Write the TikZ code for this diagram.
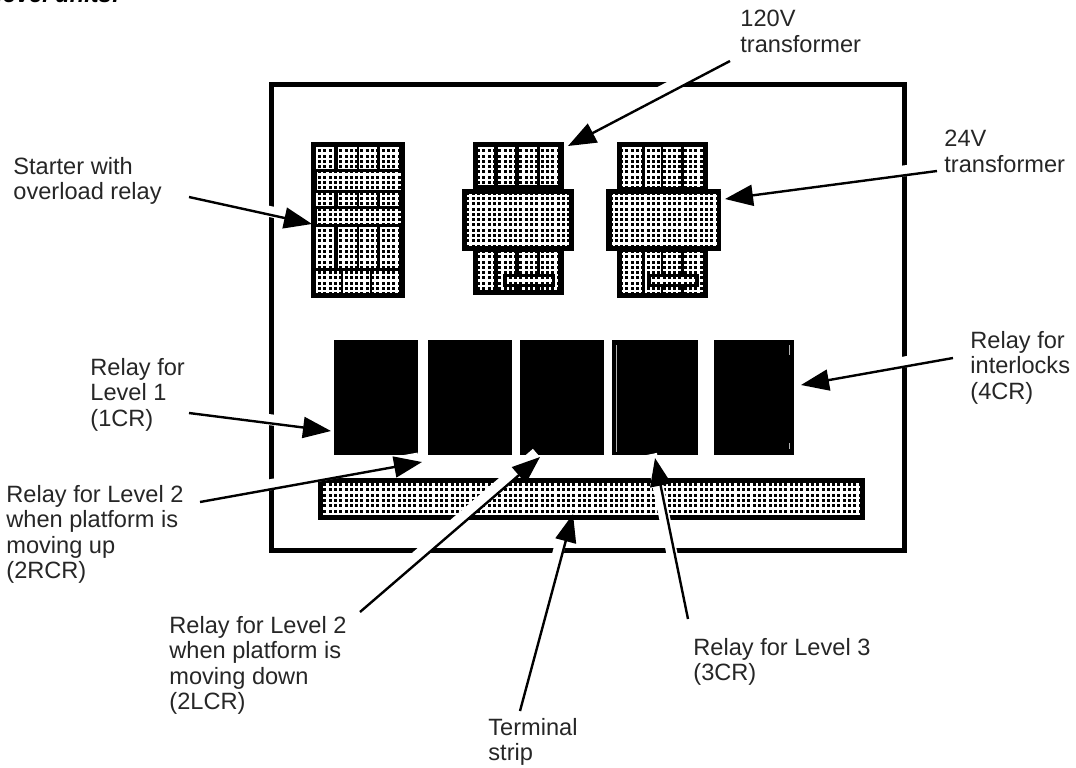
\documentclass[tikz,border=0pt]{standalone}
\usepackage{fontspec}
\setmainfont{Liberation Sans}
\usetikzlibrary{patterns, arrows.meta}
\pgfdeclarepatternformonly{Pdots}{\pgfqpoint{-0.1pt}{-0.1pt}}{\pgfqpoint{2.75pt}{2.75pt}}{\pgfqpoint{2.65pt}{2.65pt}}{
  \pgfpathrectangle{\pgfqpoint{0pt}{0pt}}{\pgfqpoint{1.5pt}{1.5pt}}
  \pgfusepath{fill}
}
\tikzset{
  F/.style={draw=black, line width=2.5pt, inner sep=0pt, outer sep=0pt,
    minimum width=316.5pt, minimum height=233pt},
  K/.style n args={2}{
    fill=black, inner sep=0pt, outer sep=0pt,
    minimum width=#1, minimum height=#2
  },
  cell/.style={fill=white, postaction={pattern=Pdots}},
  lbl/.style={anchor=north west, inner sep=0pt, align=left,
    text=black!85, font=\fontsize{11.8}{12.7}\selectfont},
  ld/.style={-{Triangle[length=14pt,width=10.5pt]}, line width=1.2pt,
    preaction={draw=white, line width=5.5pt, -, shorten >=#1,
      transform canvas={shift={(-3.5,-4)}}}},
  ld/.default=0pt
}
\begin{document}
\begin{tikzpicture}[x=0.5pt, y=-0.5pt]
\useasboundingbox (0,0) rectangle (1076,767);

% ─────────────────────────────────────────────────────────
%  Heading, cut by the top edge
% ─────────────────────────────────────────────────────────
\node[anchor=base west, inner sep=0pt, font=\fontsize{11.8}{12.7}\selectfont\bfseries\itshape] (ttl) at (-4,2) {level units:};

% ─────────────────────────────────────────────────────────
%  Panel
% ─────────────────────────────────────────────────────────
\node[F] (panel) at (588,317.5) {};

% ─────────────────────────────────────────────────────────
%  Starter
% ─────────────────────────────────────────────────────────
\node[K={47pt}{78pt}] (starter) at (357.5,220) {};
\foreach \xa/\xb in {316/334, 338/357, 359/377, 380/399} {
  \path[cell] (\xa,147) rectangle (\xb,169);
  \path[cell] (\xa,193) rectangle (\xb,206);
  \path[cell] (\xa,227) rectangle (\xb,268);
}
\path[cell] (317,172) rectangle (401,190);
\path[cell] (317,209) rectangle (401,224);
\foreach \xa/\xb in {316/341, 343/370, 372/399}
  \path[cell] (\xa,271) rectangle (\xb,293);

% ─────────────────────────────────────────────────────────
%  120V transformer
% ─────────────────────────────────────────────────────────
\node[K={45.5pt}{76.5pt}] (xfA) at (518.5,218.5) {};
\foreach \xa/\xb in {478/494, 498/515, 519/537, 540/558} {
  \path[cell] (\xa,147) rectangle (\xb,185);
  \path[cell] (\xa,252) rectangle (\xb,290);
}
\node[K={56pt}{31pt}] (xfAw) at (518,220) {};
\path[cell] (467,194) rectangle (569,246);
\node[K={26pt}{6.5pt}] (xfAb) at (529,280.5) {};
\path[cell] (507,277) rectangle (552,284);

% ─────────────────────────────────────────────────────────
%  24V transformer
% ─────────────────────────────────────────────────────────
\node[K={45.5pt}{78pt}] (xfB) at (662.5,220) {};
\foreach \xa/\xb in {622/642, 645/661, 663/681, 684/703} {
  \path[cell] (\xa,147) rectangle (\xb,187);
  \path[cell] (\xa,252) rectangle (\xb,293);
}
\node[K={57.5pt}{31pt}] (xfBw) at (663.5,220) {};
\path[cell] (612,194) rectangle (717,246);
\node[K={26pt}{6.5pt}] (xfBb) at (673,280.5) {};
\path[cell] (651,277) rectangle (695,284);

% ─────────────────────────────────────────────────────────
%  Relays
% ─────────────────────────────────────────────────────────
\node[K={42pt}{57.5pt}]    (ra) at (376,397.5) {};
\node[K={42pt}{57.5pt}]    (rb) at (470,397.5) {};
\node[K={41.75pt}{57.5pt}] (rc) at (561.75,397.5) {};
\node[K={43pt}{57.5pt}]    (rd) at (655,397.5) {};
\node[K={40pt}{57.5pt}]    (re) at (754,397.5) {};
\draw[white!70!black, line width=0.25pt] (616,345) -- (616,452);
\draw[white!70!black, line width=0.25pt] (789,345) -- (789,355);
\draw[white!70!black, line width=0.25pt] (789,443) -- (789,449);

% ─────────────────────────────────────────────────────────
%  Terminal strip
% ─────────────────────────────────────────────────────────
\node[K={273.5pt}{21pt}] (strip) at (591.5,499) {};
\path[cell] (323,483) rectangle (860,515);

% ─────────────────────────────────────────────────────────
%  Labels
% ─────────────────────────────────────────────────────────
\node[lbl] (tA) at (740,10)  {120V\\transformer};
\node[lbl] (tB) at (944,130) {24V\\transformer};
\node[lbl] (tS) at (13,157)  {Starter with\\overload relay};
\node[lbl] (tR) at (90,358)  {Relay for\\Level 1\\(1CR)};
\node[lbl] (tU) at (6,485)   {Relay for Level 2\\when platform is\\moving up\\(2RCR)};
\node[lbl] (tD) at (169,616) {Relay for Level 2\\when platform is\\moving down\\(2LCR)};
\node[lbl] (tT) at (488,718) {Terminal\\strip};
\node[lbl] (tL) at (693,638) {Relay for Level 3\\(3CR)};
\node[lbl] (tI) at (970,331) {Relay for\\interlocks\\(4CR)};

% ─────────────────────────────────────────────────────────
%  Arrows
% ─────────────────────────────────────────────────────────
\draw[ld] ([shift={(-10,51)}]tA.north west)  -- ([shift={(4,4)}]xfA.north east);
\draw[ld] ([shift={(-7,41)}]tB.north west)   -- ([shift={(4,10)}]xfBw.north east);
\draw[ld] ([shift={(176,40)}]tS.north west)  -- ([shift={(1.5,4)}]starter.west);
\draw[ld] ([shift={(99,55)}]tR.north west)   -- ([shift={(-3,33.5)}]ra.west);
\draw[ld] ([shift={(194,17)}]tU.north west)  -- ([shift={(4,7)}]ra.south east);
\draw[ld] ([shift={(191,-4)}]tD.north west)  -- ([shift={(-21.75,2)}]rc.south);
\draw[ld=14pt] ([shift={(32,-7)}]tT.north west) -- ([shift={(-18.5,-6)}]strip.south);
\draw[ld] ([shift={(-5,-19)}]tL.north west)  -- ([shift={(0,3)}]rd.south);
\draw[ld] ([shift={(-17,27)}]tI.north west)  -- ([shift={(7,-12.5)}]re.east);

\end{tikzpicture}
\end{document}
